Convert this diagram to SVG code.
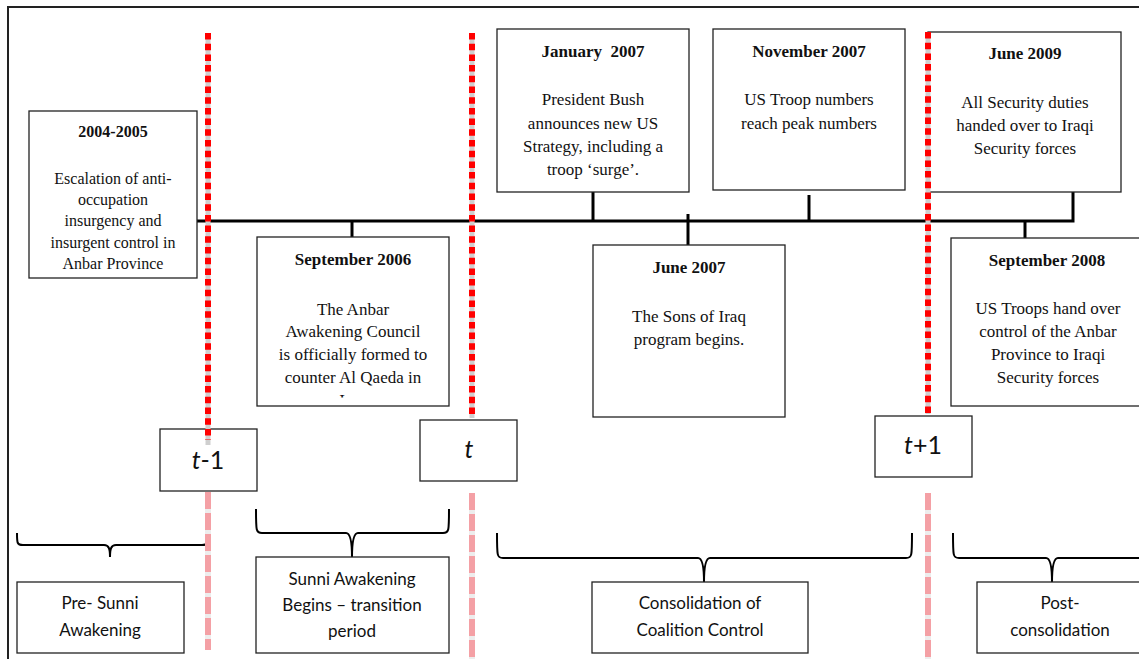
<svg xmlns="http://www.w3.org/2000/svg" width="1139" height="659" viewBox="0 0 1139 659">
<style>
.box{fill:#fff;stroke:#222;stroke-width:1.3}
.ser{font-family:"Liberation Serif","Times New Roman",serif;font-size:17px;fill:#111;text-anchor:middle}
.ser16{font-size:16px}
.b{font-weight:bold}
.sans{font-family:Lato,"Liberation Sans",Arial,sans-serif;font-size:17px;fill:#111;text-anchor:middle}
.tl{font-family:Lato,"Liberation Sans",Arial,sans-serif;font-size:25px;fill:#111;text-anchor:middle}
.bar{stroke:#000;stroke-width:3;fill:none}
.brace{stroke:#000;stroke-width:2;fill:none}
.dotbg{stroke:#cfcfcf;stroke-width:5}
.dot{stroke:#ff0000;stroke-width:6;stroke-dasharray:6.5 4.2}
.dashbg{stroke:#ededed;stroke-width:6}
.dash{stroke:#f4a0a5;stroke-width:6;stroke-dasharray:17 4}
</style>
<defs>
<clipPath id="clipSep06"><rect x="257" y="237" width="192" height="160.5"/></clipPath>
</defs>
<rect width="1139" height="659" fill="#fff"/>
<rect x="8" y="7" width="1150" height="670" fill="none" stroke="#222" stroke-width="2"/>

<g id="connectors">
<path class="bar" d="M197,221 H1073 V192"/>
<path class="bar" d="M352,221 V238"/>
<path class="bar" d="M593,192 V221"/>
<path class="bar" d="M688,214 V245"/>
<path class="bar" d="M809,195 V221"/>
<path class="bar" d="M1025,221 V245"/>
<path class="brace" d="M17,533 C17,543 17,545 23,545 L104,545 C109,545 110,549 110,557 C110,549 111,545 116,545 L202,545 C208,545 208,543 208,533"/>
<path class="brace" d="M256,509 C256,531 256,533 262,533 L346,533 C351,533 352,545 352,557 C352,545 353,533 358,533 L443,533 C449,533 449,531 449,509"/>
<path class="brace" d="M497,533 C497,556 497,558 503,558 L698,558 C703,558 704,570 704,582 C704,570 705,558 710,558 L906,558 C912,558 912,556 912,533"/>
<path class="brace" d="M953,533 C953,556 953,558 959,558 L1046,558 C1051,558 1052,570 1052,582 C1052,570 1053,558 1058,558 L1160,558"/>
</g>

<g id="node-2004-2005">
<rect class="box" x="29" y="111" width="168" height="167"/>
<text class="ser ser16 b" x="113" y="137">2004-2005</text>
<text class="ser ser16" x="113" y="184">Escalation of anti-</text>
<text class="ser ser16" x="113" y="205">occupation</text>
<text class="ser ser16" x="113" y="226">insurgency and</text>
<text class="ser ser16" x="113" y="248">insurgent control in</text>
<text class="ser ser16" x="113" y="269">Anbar Province</text>
</g>

<g id="node-jan-2007">
<rect class="box" x="497" y="29" width="192" height="163"/>
<text class="ser b" x="593" y="56.5" xml:space="preserve">January  2007</text>
<text class="ser" x="593" y="105">President Bush</text>
<text class="ser" x="593" y="128.5">announces new US</text>
<text class="ser" x="593" y="152">Strategy, including a</text>
<text class="ser" x="593" y="175">troop ‘surge’.</text>
</g>

<g id="node-nov-2007">
<rect class="box" x="713" y="29" width="192" height="161"/>
<text class="ser b" x="809" y="56.5">November 2007</text>
<text class="ser" x="809" y="105">US Troop numbers</text>
<text class="ser" x="809" y="128.5">reach peak numbers</text>
</g>

<g id="node-jun-2009">
<rect class="box" x="928" y="32" width="193" height="160"/>
<text class="ser b" x="1025" y="58.5">June 2009</text>
<text class="ser" x="1025" y="107.5">All Security duties</text>
<text class="ser" x="1025" y="131">handed over to Iraqi</text>
<text class="ser" x="1025" y="153.5">Security forces</text>
</g>

<g id="node-sep-2006">
<rect class="box" x="257" y="237" width="192" height="169"/>
<text class="ser b" x="353" y="265">September 2006</text>
<text class="ser" x="353" y="315">The Anbar</text>
<text class="ser" x="353" y="337">Awakening Council</text>
<text class="ser" x="353" y="360">is officially formed to</text>
<text class="ser" x="353" y="383">counter Al Qaeda in</text>
<text class="ser" x="353" y="406" clip-path="url(#clipSep06)">Iraq</text>
</g>

<g id="node-jun-2007">
<rect class="box" x="593" y="245" width="192" height="172"/>
<text class="ser b" x="689" y="272.5">June 2007</text>
<text class="ser" x="689" y="321.5">The Sons of Iraq</text>
<text class="ser" x="689" y="344.5">program begins.</text>
</g>

<g id="node-sep-2008">
<rect class="box" x="951" y="238" width="200" height="168"/>
<text class="ser b" x="1047" y="265.5">September 2008</text>
<text class="ser" x="1048" y="313.5">US Troops hand over</text>
<text class="ser" x="1048" y="336.5">control of the Anbar</text>
<text class="ser" x="1048" y="359.5">Province to Iraqi</text>
<text class="ser" x="1048" y="382.5">Security forces</text>
</g>

<g id="node-t-minus-1">
<rect class="box" x="160" y="429" width="97" height="62"/>
<text class="tl" x="208" y="469"><tspan font-style="italic">t</tspan>-1</text>
</g>

<g id="node-t">
<rect class="box" x="420" y="420" width="97" height="61"/>
<text class="tl" x="469" y="458" font-style="italic">t</text>
</g>

<g id="node-t-plus-1">
<rect class="box" x="875" y="416" width="97" height="61"/>
<text class="tl" x="923" y="454"><tspan font-style="italic">t</tspan>+1</text>
</g>

<g id="node-pre-sunni">
<rect class="box" x="17" y="582" width="167" height="71"/>
<text class="sans" x="100" y="609">Pre- Sunni</text>
<text class="sans" x="100" y="636">Awakening</text>
</g>

<g id="node-sunni-awakening">
<rect class="box" x="256" y="557" width="193" height="96"/>
<text class="sans" x="352" y="585">Sunni Awakening</text>
<text class="sans" x="352" y="610.5">Begins – transition</text>
<text class="sans" x="352" y="637">period</text>
</g>

<g id="node-consolidation">
<rect class="box" x="592" y="582" width="216" height="71"/>
<text class="sans" x="700" y="609">Consolidation of</text>
<text class="sans" x="700" y="636">Coalition Control</text>
</g>

<g id="node-post-consolidation">
<rect class="box" x="977" y="582" width="180" height="71"/>
<text class="sans" x="1060" y="609">Post-</text>
<text class="sans" x="1060" y="636">consolidation</text>
</g>

<g id="period-lines">
<line class="dotbg" x1="208" y1="33" x2="208" y2="445"/>
<line class="dot" x1="208" y1="33" x2="208" y2="440"/>
<line class="dashbg" x1="208" y1="492" x2="208" y2="650"/>
<line class="dash" x1="208" y1="492" x2="208" y2="650"/>
<line class="dotbg" x1="472" y1="33" x2="472" y2="418"/>
<line class="dot" x1="472" y1="33" x2="472" y2="418"/>
<line class="dashbg" x1="472" y1="493" x2="472" y2="659"/>
<line class="dash" x1="472" y1="493" x2="472" y2="659"/>
<line class="dotbg" x1="928" y1="32" x2="928" y2="414"/>
<line class="dot" x1="928" y1="32" x2="928" y2="414"/>
<line class="dashbg" x1="928" y1="493" x2="928" y2="659"/>
<line class="dash" x1="928" y1="493" x2="928" y2="659"/>
</g>
</svg>
